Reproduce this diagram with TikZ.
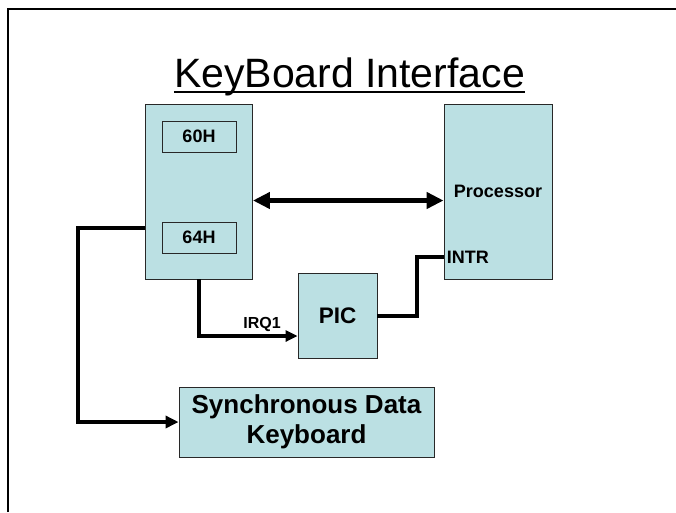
\documentclass[tikz,border=0pt]{standalone}
\usepackage{fontspec}
\setmainfont{Liberation Sans}
\usepackage{tikz}
\usetikzlibrary{arrows.meta, positioning, calc}
\definecolor{boxfill}{RGB}{187,224,227}
\definecolor{boxline}{RGB}{40,40,40}

\begin{document}
\begin{tikzpicture}[x=1pt, y=-1pt,
  blk/.style={draw=boxline, fill=boxfill, line width=0.9pt, inner sep=0pt, font=\fontsize{18}{21}\selectfont\bfseries},
  port/.style={blk, minimum width=74pt, minimum height=31pt},
  wire/.style={line width=4pt}]
  \useasboundingbox (0,0) rectangle (676,512);
  % slide frame
  \draw[line width=2pt] (8,512) -- (8,9) -- (676,9);

  \node[inner sep=0pt, anchor=base, font=\fontsize{41}{48}\selectfont] (title) at (349.5,87) {KeyBoard Interface};
  \draw[line width=1.5pt] ([yshift=-5pt]title.base west) -- ([yshift=-5pt]title.base east);

  % controller with its two ports
  \node[blk, minimum width=107pt, minimum height=175pt] (kbc) at (199,191.5) {};
  \node[port] (p60) at (199,136.5) {60H};
  \node[port] (p64) at (199,237.5) {64H};

  \node[blk, minimum width=108pt, minimum height=175pt] (proc) at (498,191.5) {Processor};
  \node[blk, minimum width=79pt, minimum height=85pt, font=\fontsize{22.5}{27}\selectfont\bfseries] (pic) at (337.5,315.5) {PIC};
  \node[blk, minimum width=255pt, minimum height=70pt, align=center, font=\fontsize{26}{30}\selectfont\bfseries] (kbd) at (306.5,422) {Synchronous Data\\Keyboard};

  \coordinate (intrpin) at ([yshift=-65.5pt]proc.west);
  \node[right=3pt of intrpin, inner sep=0pt, font=\fontsize{18}{21}\selectfont\bfseries] (intr) {INTR};

  \draw[wire, line width=5pt, {Triangle[length=17pt,width=16pt]}-{Triangle[length=17pt,width=16pt]}] ([yshift=-9pt]kbc.east) -- ([yshift=-9pt]proc.west);
  \draw[wire, -{Triangle[length=12pt,width=11pt]}] (kbc.south) |- ([yshift=-20.5pt]pic.west) node[pos=0.82, above=1pt, inner sep=1pt, font=\fontsize{16}{19}\selectfont\bfseries] (irq) {IRQ1};
  \draw[wire] (pic.east) -- ++(40,0) |- (intrpin);
  \draw[wire, -{Triangle[length=13pt,width=12pt]}] ([yshift=-36.5pt]kbc.west) -- ++(-67.5,0) |- (kbd.west);
\end{tikzpicture}
\end{document}
